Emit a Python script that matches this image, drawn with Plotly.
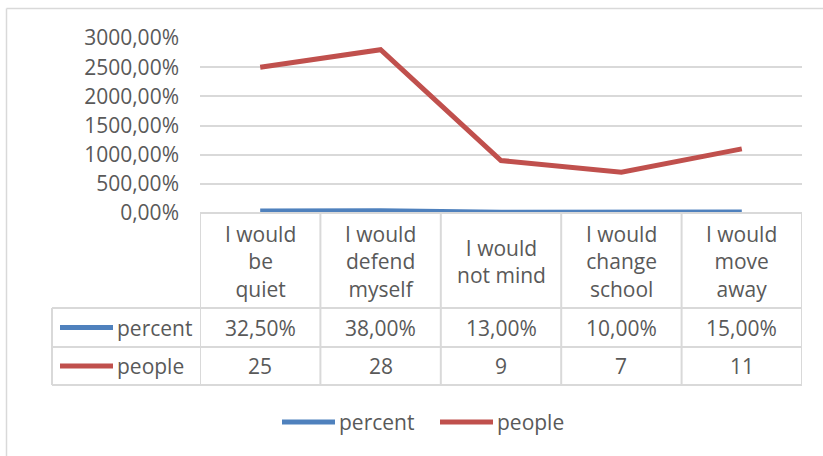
import plotly.graph_objects as go

# Survey data
categories = ["I would<br>be<br>quiet", "I would<br>defend<br>myself", "I would<br>not mind",
              "I would<br>change<br>school", "I would<br>move<br>away"]
percent = [0.325, 0.38, 0.13, 0.10, 0.15]
people = [25, 28, 9, 7, 11]
percent_labels = ["32,50%", "38,00%", "13,00%", "10,00%", "15,00%"]
people_labels = ["25", "28", "9", "7", "11"]
y_ticks = [0, 5, 10, 15, 20, 25, 30]

W, H = 823, 456
BLUE = "#4F81BD"
RED = "#C0504D"
GRID = "#D9D9D9"
TXT = "#595959"
FONT = "Open Sans"
FS = 21

# plot area in pixels
PX0, PX1 = 200, 802
PY_TOP, PY_BOT = 38, 213


def px(x):
    return x / W


def py(y):
    return 1 - y / H


xs = list(range(len(categories)))

fig = go.Figure()
fig.add_trace(go.Scatter(x=xs, y=percent, mode="lines", name="percent",
                         line=dict(color=BLUE, width=5), showlegend=False))
fig.add_trace(go.Scatter(x=xs, y=people, mode="lines", name="people",
                         line=dict(color=RED, width=5), showlegend=False))

shapes = []
annotations = []

# outer chart border (top and left edges are visible)
border = dict(color=GRID, width=1.5)
shapes.append(dict(type="line", xref="paper", yref="paper", x0=px(6.5), x1=1,
                   y0=py(8.5), y1=py(8.5), line=border, layer="below"))
shapes.append(dict(type="line", xref="paper", yref="paper", x0=px(6.5), x1=px(6.5),
                   y0=py(8.5), y1=0, line=border, layer="below"))

# data table geometry
ROW_HDR_BOT, ROW1_BOT, ROW2_BOT = 308, 347, 385
TBL_LEFT = 52
line_style = dict(color=GRID, width=2)

# vertical separators between categories
for i in range(len(categories) + 1):
    xv = i - 0.5
    shapes.append(dict(type="line", xref="x", yref="paper", x0=xv, x1=xv,
                       y0=py(PY_BOT), y1=py(ROW2_BOT), line=line_style))
# left edge of the legend column
shapes.append(dict(type="line", xref="paper", yref="paper", x0=px(TBL_LEFT), x1=px(TBL_LEFT),
                   y0=py(ROW_HDR_BOT), y1=py(ROW2_BOT), line=line_style))
# horizontal rules
shapes.append(dict(type="line", xref="paper", yref="paper", x0=px(PX0), x1=px(PX1),
                   y0=py(PY_BOT), y1=py(PY_BOT), line=line_style))
for yy in (ROW_HDR_BOT, ROW1_BOT, ROW2_BOT):
    shapes.append(dict(type="line", xref="paper", yref="paper", x0=px(TBL_LEFT), x1=px(PX1),
                       y0=py(yy), y1=py(yy), line=line_style))

font = dict(family=FONT, size=FS, color=TXT)

# header cells
for i, c in enumerate(categories):
    annotations.append(dict(x=i, y=py((PY_BOT + ROW_HDR_BOT) / 2 + 1), xref="x", yref="paper",
                            text=c, showarrow=False, align="center",
                            xanchor="center", yanchor="middle", font=font))
# value rows
for labels, y0, y1 in ((percent_labels, ROW_HDR_BOT, ROW1_BOT), (people_labels, ROW1_BOT, ROW2_BOT)):
    for i, t in enumerate(labels):
        annotations.append(dict(x=i, y=py((y0 + y1) / 2), xref="x", yref="paper",
                                text=t, showarrow=False,
                                xanchor="center", yanchor="middle", font=font))

# legend keys inside the table
for name, color, y0, y1 in (("percent", BLUE, ROW_HDR_BOT, ROW1_BOT), ("people", RED, ROW1_BOT, ROW2_BOT)):
    yc = (y0 + y1) / 2
    shapes.append(dict(type="line", xref="paper", yref="paper", x0=px(60), x1=px(113),
                       y0=py(yc), y1=py(yc), line=dict(color=color, width=5)))
    annotations.append(dict(x=px(115), y=py(yc), xref="paper", yref="paper", text=name,
                            showarrow=False, xanchor="left", yanchor="middle", font=font))

# bottom legend
LEG_Y = 422
for name, color, x0 in (("percent", BLUE, 282), ("people", RED, 440)):
    shapes.append(dict(type="line", xref="paper", yref="paper", x0=px(x0), x1=px(x0 + 53),
                       y0=py(LEG_Y), y1=py(LEG_Y), line=dict(color=color, width=5)))
    annotations.append(dict(x=px(x0 + 55), y=py(LEG_Y), xref="paper", yref="paper", text=name,
                            showarrow=False, xanchor="left", yanchor="middle", font=font))

fig.update_layout(
    width=W, height=H,
    margin=dict(l=0, r=0, t=0, b=0, autoexpand=False),
    paper_bgcolor="white", plot_bgcolor="white",
    separators=", ",
    showlegend=False,
    xaxis=dict(domain=[px(PX0), px(PX1)], range=[-0.5, len(categories) - 0.5],
               showticklabels=False, showgrid=False, zeroline=False, ticks="",
               automargin=False),
    yaxis=dict(domain=[py(PY_BOT), py(PY_TOP)], range=[0, 30],
               tickvals=y_ticks, tickformat=".2%",
               showgrid=True, gridcolor=GRID, gridwidth=1.5,
               zeroline=False, ticks="", ticklabelstandoff=20, automargin=False,
               tickfont=font),
    shapes=shapes,
    annotations=annotations,
)

fig.write_html("out.html")
